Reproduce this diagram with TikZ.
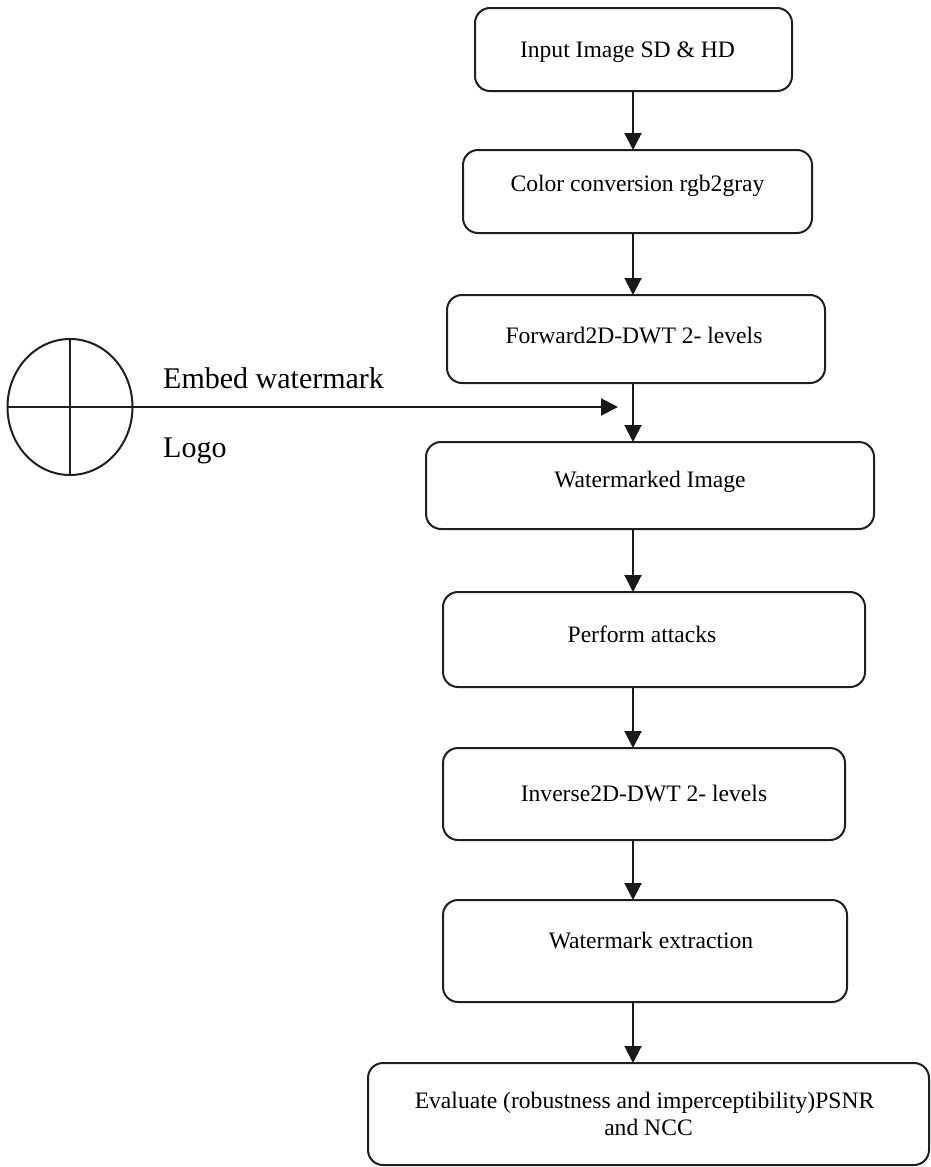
\documentclass[tikz,border=0pt]{standalone}
\usepackage{fontspec}
\setmainfont{Liberation Serif}
\usetikzlibrary{arrows.meta,shapes.geometric}
\begin{document}
\begin{tikzpicture}[x=1pt,y=1pt,
  box/.style={draw=black!88, line width=2pt, rounded corners=15pt, inner sep=0pt, outer sep=0pt,
    font=\fontsize{23.6pt}{27pt}\selectfont, align=center},
  tdep/.style={text height=21pt, text depth=#1},
  arr/.style={draw=black!90, line width=2pt, -{Triangle[length=17pt,width=17pt]}},
  lbl/.style={font=\fontsize{30pt}{36pt}\selectfont, inner sep=0pt, anchor=base west},
  thin/.style={draw=black!88, line width=2pt}]
\useasboundingbox (0,0) rectangle (931,-1167);
% boxes
\node[box, tdep=5.1pt, minimum width=317pt, minimum height=83pt] (b1) at (633.5,-49.5) {\hspace*{-12pt}Input Image SD \& HD};
\node[box, tdep=20.1pt, minimum width=349pt, minimum height=83pt] (b2) at (637.5,-191.5) {Color conversion rgb2gray};
\node[box, tdep=11.1pt, minimum width=378pt, minimum height=88pt] (b3) at (636,-339) {\hspace*{-4pt}Forward2D-DWT 2- levels};
\node[box, tdep=16.1pt, minimum width=448pt, minimum height=87pt] (b4) at (650,-485.5) {Watermarked Image};
\node[box, tdep=14.1pt, minimum width=422pt, minimum height=95pt] (b5) at (654,-639.5) {\hspace*{-24pt}Perform attacks};
\node[box, tdep=5.1pt, minimum width=402pt, minimum height=92pt] (b6) at (644,-794) {Inverse2D-DWT 2- levels};
\node[box, tdep=25.1pt, minimum width=404pt, minimum height=102pt] (b7) at (645,-951) {\hspace*{12pt}Watermark extraction};
\node[box, minimum width=561pt, minimum height=102pt] (b8) at (648.5,-1114) {\hspace*{-8pt}Evaluate (robustness and imperceptibility)PSNR\\and NCC};
% logo
\node[thin, draw, ellipse, minimum width=125pt, minimum height=136pt, inner sep=0pt, outer sep=0pt] (logo) at (70,-407) {};
\draw[thin] (logo.north) -- (logo.south);
\draw[thin] (logo.west) -- (logo.east);
\node[lbl] (emb) at (163,-388) {Embed watermark};
\node[lbl] (lg) at (163,-457) {Logo};
% connectors
\coordinate (ax) at (633,0);
\coordinate (tip) at (618,-407);
\draw[arr] (b1.south -| ax) -- (b2.north -| ax);
\draw[arr] (b2.south -| ax) -- (b3.north -| ax);
\draw[arr] (b3.south -| ax) -- (b4.north -| ax);
\draw[arr] (b4.south -| ax) -- (b5.north -| ax);
\draw[arr] (b5.south -| ax) -- (b6.north -| ax);
\draw[arr] (b6.south -| ax) -- (b7.north -| ax);
\draw[arr] (b7.south -| ax) -- (b8.north -| ax);
\draw[arr] (logo.east) -- (tip);
\end{tikzpicture}
\end{document}
